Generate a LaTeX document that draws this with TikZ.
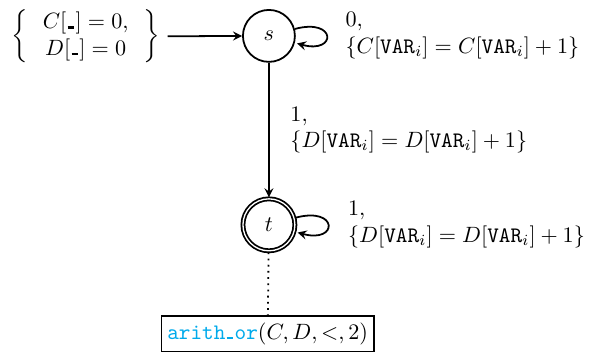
\documentclass[tikz,border=0pt]{standalone}
\usepackage{amsmath}
\usetikzlibrary{automata,positioning,arrows}
\definecolor{funcor}{RGB}{0,170,235}
\newcommand{\blank}{\kern0.06em\rule{0.3em}{0.1em}\kern0.06em}
\begin{document}
\begin{tikzpicture}[>=stealth, every state/.style={draw, thick, minimum size=0.825cm, inner sep=1pt}]
	% margens da figura
	\useasboundingbox (0,0) rectangle (9.40,-5.63);
	% estados s e t
	\node[state] (s) at (4.27,-0.57) {$s$};
	\node[state, accepting] (t) at (4.27,-3.57) {$t$};
	% condicao inicial
	\node[inner ysep=0pt] (ini) at (1.36,-0.58) {$\left\{\,\begin{array}{c} C[\blank]=0,\\ D[\blank]=0\end{array}\,\right\}$};
	\draw[->, thick] (ini) -- (s);
	% transicoes
	\path[->, thick] (s) edge[loop right] node[right, xshift=5pt, align=left] {$0,$\\$\{C[\mathtt{VAR}_i]=C[\mathtt{VAR}_i]+1\}$} ()
	      (s) edge node[right, xshift=6pt, align=left] {$1,$\\$\{D[\mathtt{VAR}_i]=D[\mathtt{VAR}_i]+1\}$} (t)
	      (t) edge[loop right] node[right, xshift=5.5pt, align=left] {$1,$\\$\{D[\mathtt{VAR}_i]=D[\mathtt{VAR}_i]+1\}$} ();
	% restricao final
	\node[draw, thick, inner xsep=2.6pt, inner ysep=3pt] (res) at (4.25,-5.30) {\textcolor{funcor}{\texttt{arith}\blank\texttt{or}}$(C,D,<,2)$};
	\draw[dotted, thick] (t) -- (res);
\end{tikzpicture}
\end{document}
